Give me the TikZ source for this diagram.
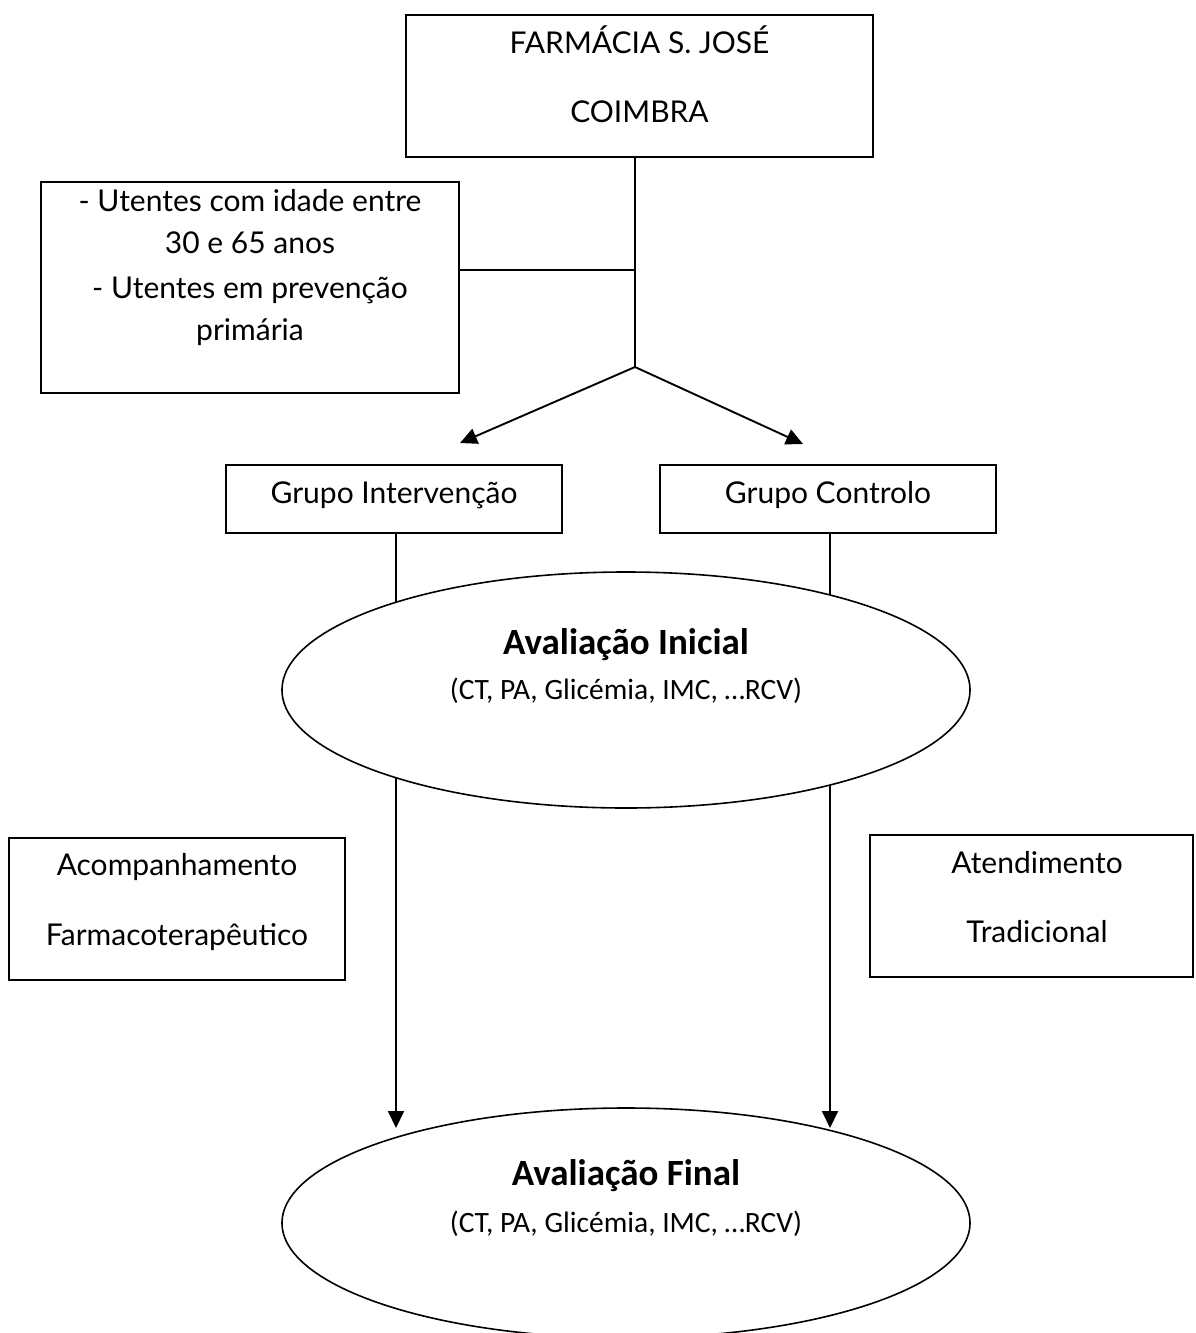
\documentclass[tikz,border=0pt]{standalone}
\usepackage{fontspec}
\setmainfont{Lato}
\newfontfamily\calib{Carlito}
\usetikzlibrary{shapes.geometric,arrows.meta}
\begin{document}
\begin{tikzpicture}[x=1pt,y=-1pt,
  box/.style={draw,rectangle,inner sep=0pt,line width=1.8pt},
  oval/.style={draw,ellipse,inner sep=0pt,fill=white,line width=1.6pt},
  gill/.style={font=\fontsize{30}{36}\selectfont,anchor=base,inner sep=0pt},
  ttl/.style={font=\calib\bfseries\fontsize{37}{40}\selectfont,anchor=base,inner sep=0pt},
  sub/.style={font=\calib\fontsize{29.5}{32}\selectfont,anchor=base,inner sep=0pt},
  conn/.style={line width=1.9pt},
  arr/.style={conn,-{Triangle[length=17pt,width=16pt]}}]
\useasboundingbox (0,0) rectangle (1195,1333);
\clip (0,0) rectangle (1195,1333);

% top box
\node[box,minimum width=467pt,minimum height=142pt] (farm) at (639.5,86) {};
\node[gill] (farm1) at (639.5,53) {FARMÁCIA S. JOSÉ};
\node[gill] (farm2) at (639.5,122) {COIMBRA};

% criteria box
\node[box,minimum width=418pt,minimum height=211pt] (crit) at (250,287.5) {};
\node[gill] (crit1) at (250,211) {- Utentes com idade entre};
\node[gill] (crit2) at (250,253) {30 e 65 anos};
\node[gill] (crit3) at (250,298) {- Utentes em prevenção};
\node[gill] (crit4) at (250,340) {primária};

% junctions
\coordinate (J) at (635,367);
\coordinate (hj) at (635,270);
\draw[conn] (J |- farm.south) -- (J);
\draw[conn] (hj -| crit.east) -- (hj);
\coordinate (tipGI) at (460,443);
\coordinate (tipGC) at (803,444);
\draw[arr] (J) -- (tipGI);
\draw[arr] (J) -- (tipGC);

% group boxes
\node[box,minimum width=336pt,minimum height=68pt] (gi) at (394,499) {};
\node[gill] (gitxt) at (394,503) {Grupo Intervenção};
\node[box,minimum width=336pt,minimum height=68pt] (gc) at (828,499) {};
\node[gill] (gctxt) at (828,503) {Grupo Controlo};

% vertical arrows (behind ellipse 1)
\coordinate (tipL) at (396,1128);
\coordinate (tipR) at (830,1128);
\draw[arr] (tipL |- gi.south) -- (tipL);
\draw[arr] (tipR |- gc.south) -- (tipR);

% ellipse 1
\node[oval,minimum width=688pt,minimum height=236pt] (ei) at (626,690) {};
\node[ttl] (eit) at (626,654) {Avaliação Inicial};
\node[sub] (eis) at (626,699) {(CT, PA, Glicémia, IMC, …RCV)};

% side boxes
\node[box,minimum width=336pt,minimum height=142pt] (acomp) at (177,909) {};
\node[gill] (acomp1) at (177,875) {Acompanhamento};
\node[gill] (acomp2) at (177,945) {Farmacoterapêutico};
\node[box,minimum width=323pt,minimum height=142pt] (atend) at (1031.5,906) {};
\node[gill] (atend1) at (1037,873) {Atendimento};
\node[gill] (atend2) at (1037,942) {Tradicional};

% ellipse 2
\node[oval,minimum width=688pt,minimum height=230pt] (ef) at (626,1223) {};
\node[ttl] (eft) at (626,1185) {Avaliação Final};
\node[sub] (efs) at (626,1232) {(CT, PA, Glicémia, IMC, …RCV)};
\end{tikzpicture}
\end{document}
